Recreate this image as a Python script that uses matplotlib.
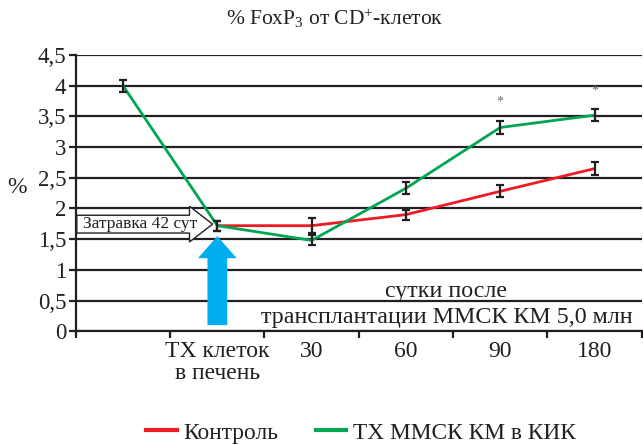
import matplotlib
matplotlib.use("Agg")
import matplotlib.pyplot as plt
from matplotlib.patches import FancyArrow
from matplotlib.lines import Line2D

plt.rcParams['font.family'] = ['Liberation Serif', 'DejaVu Serif']
plt.rcParams['mathtext.fontset'] = 'custom'
plt.rcParams['mathtext.rm'] = 'Liberation Serif'
plt.rcParams['mathtext.it'] = 'Liberation Serif:italic'

# data
positions = [0, 1, 2, 3, 4, 5]
tick_labels = ["", "ТХ клеток\nв печень", "30", "60", "90", "180"]

control_x = [1, 2, 3, 4, 5]
control = [1.72, 1.72, 1.90, 2.28, 2.65]
control_err = [0.08, 0.12, 0.08, 0.1, 0.1]

tx_x = [0, 1, 2, 3, 4, 5]
tx = [4.0, 1.72, 1.48, 2.33, 3.32, 3.52]
tx_err = [0.1, 0.08, 0.08, 0.1, 0.1, 0.1]

star_x = [4, 5]
star_y = [3.74, 3.92]

yticks = [0, 0.5, 1, 1.5, 2, 2.5, 3, 3.5, 4, 4.5]
ytick_labels = ["0", "0,5", "1", "1,5", "2", "2,5", "3", "3,5", "4", "4,5"]

red = "#ED1C24"
green = "#00A651"
blue = "#00AEEF"
ink = "#231F20"

fig = plt.figure(figsize=(6.43, 4.44), dpi=100)
ax = fig.add_axes([0.118, 0.254, 0.880, 0.622])

ax.set_xlim(-0.5, 5.5)
ax.set_ylim(0, 4.5)

# horizontal grid
for y in yticks:
    ax.axhline(y, color=ink, lw=1.6, zorder=1)

ax.plot(control_x, control, color=red, lw=2.0, zorder=3)
ax.plot(tx_x, tx, color=green, lw=2.0, zorder=3)
ax.errorbar(control_x, control, yerr=control_err, fmt="none", ecolor=ink,
            elinewidth=1.6, capsize=2.8, capthick=1.6, zorder=4)
ax.errorbar(tx_x, tx, yerr=tx_err, fmt="none", ecolor=ink,
            elinewidth=1.6, capsize=2.8, capthick=1.6, zorder=4)

for sx, sy in zip(star_x, star_y):
    ax.text(sx, sy, "*", ha="center", va="center", fontsize=10, color="#6d6d6d")

# axes styling
for s in ["top", "right"]:
    ax.spines[s].set_visible(False)
for s in ["left", "bottom"]:
    ax.spines[s].set_linewidth(1.6)
    ax.spines[s].set_color(ink)

ax.set_yticks(yticks)
ax.set_yticklabels(ytick_labels, fontsize=16.5, color=ink)
ax.tick_params(axis="y", length=5, width=1.6, color=ink, pad=2)

ax.set_xticks(positions)
ax.set_xticklabels(tick_labels, fontsize=17, color=ink, linespacing=1.05)
ax.set_xticks([p - 0.5 for p in positions] + [5.5], minor=True)
ax.tick_params(axis="x", which="major", length=0, pad=7)
ax.tick_params(axis="x", which="minor", length=5, width=1.6, color=ink)

ax.set_ylabel("%", rotation=0, fontsize=17, color=ink, ha="center", va="center")
ax.yaxis.set_label_coords(-0.104, 0.52)

# "Затравка" block arrow
ax.add_patch(FancyArrow(-0.49, 1.745, 1.44, 0, width=0.29, head_width=0.58,
                        head_length=0.245, length_includes_head=True,
                        fc="white", ec=ink, lw=1.0, zorder=5))
ax.text(-0.42, 1.745, "Затравка 42 сут", ha="left", va="center", fontsize=12.5,
        color=ink, zorder=6)

# blue up arrow
ax.add_patch(FancyArrow(1.0, 0.1, 0, 1.45, width=0.21, head_width=0.41,
                        head_length=0.36, length_includes_head=True,
                        fc=blue, ec="none", zorder=5))

ax.text(3.43, 0.64, "сутки после", ha="center", va="center", fontsize=17.3, color=ink)
ax.text(3.43, 0.23, "трансплантации ММСК КМ 5,0 млн", ha="center", va="center",
        fontsize=17.3, color=ink)

fig.text(0.52, 0.958, "% FoxP$_{3}$ от CD$^{+}$-клеток", ha="center", va="center",
         fontsize=15.5, color=ink)

handles = [Line2D([], [], color=red, lw=3), Line2D([], [], color=green, lw=3)]
fig.legend(handles, ["Контроль", "ТХ ММСК КМ в КИК"], loc="center",
           bbox_to_anchor=(0.562, 0.025), ncol=2, frameon=False, fontsize=16.8,
           handlelength=1.3, handletextpad=0.3, columnspacing=1.6,
           labelcolor=ink)

fig.savefig("out.png", dpi=100)
